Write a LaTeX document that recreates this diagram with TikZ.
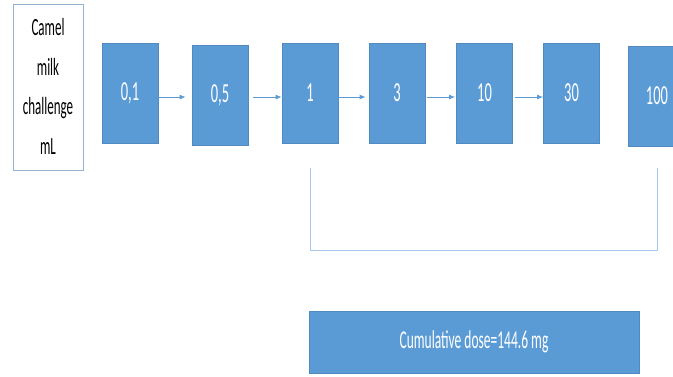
\documentclass[tikz,border=0pt]{standalone}
\usepackage{fontspec}
\setmainfont{Carlito}
\usetikzlibrary{arrows.meta,calc}
\definecolor{obl}{RGB}{91,155,213}
\definecolor{obd}{RGB}{80,138,192}
\definecolor{obr}{RGB}{150,178,210}
\definecolor{obline}{RGB}{170,200,235}
\newcommand{\tallt}[1]{\scalebox{1}[1.9]{#1}}
\tikzset{
  dosebox/.style={rectangle, fill=obl, draw=obd, line width=0.6pt, text=white,
    minimum width=56pt, minimum height=100pt, inner sep=0pt,
    font=\fontsize{14.5}{17}\selectfont},
  flow/.style={draw=obl, line width=1pt, -{Latex[length=6pt,width=5pt]}},
  brack/.style={draw=obline, line width=1pt},
}
\begin{document}
\begin{tikzpicture}[x=1pt,y=-1pt]
\useasboundingbox (0,0) rectangle (673,376);
\clip (0,0) rectangle (673,376);
\node[rectangle, draw=obr, line width=0.8pt, minimum width=70pt, minimum height=166pt, inner sep=0pt,
  font=\fontsize{13}{21}\selectfont] (lab) at (48,87)
  {\tallt{\begin{tabular}{@{}c@{}}Camel\\milk\\challenge\\mL\end{tabular}}};
\node[dosebox] (d1) at (130,93) {\tallt{0,1}};
\node[dosebox] (d2) at (220,95) {\tallt{0,5}};
\node[dosebox] (d3) at (310,93) {\tallt{1}};
\node[dosebox] (d4) at (397,93) {\tallt{3}};
\node[dosebox] (d5) at (484.5,93) {\tallt{10}};
\node[dosebox] (d6) at (571.5,93) {\tallt{30}};
\node[dosebox, minimum width=58pt] (d7) at (657,96) {\tallt{100}};
\draw[flow] ($(d1.east)+(0,4)$) -- ($(d2.west)+(-6,2)$);
\draw[flow] ($(d2.east)+(5,2)$) -- ($(d3.west)+(0,4)$);
\draw[flow] ($(d3.east)+(0,4)$) -- ($(d4.west)+(-3,4)$);
\draw[flow] ($(d4.east)+(2,4)$) -- ($(d5.west)+(-1,4)$);
\draw[flow] ($(d5.east)+(2,4)$) -- ($(d6.west)+(0,4)$);
\coordinate (bl) at ($(d3.south)+(0,25)$);
\coordinate (br) at ($(d7.south)+(0,22)$);
\draw[brack] (bl) -- (bl |- 0,250) -- (br |- 0,250) -- (br);
\node[rectangle, fill=obl, draw=obd, line width=0.6pt, text=white, minimum width=330pt, minimum height=62pt,
  inner sep=0pt, font=\fontsize{13.5}{16}\selectfont] (cum) at (474,342) {\tallt{Cumulative dose=144.6 mg}};
\end{tikzpicture}
\end{document}
